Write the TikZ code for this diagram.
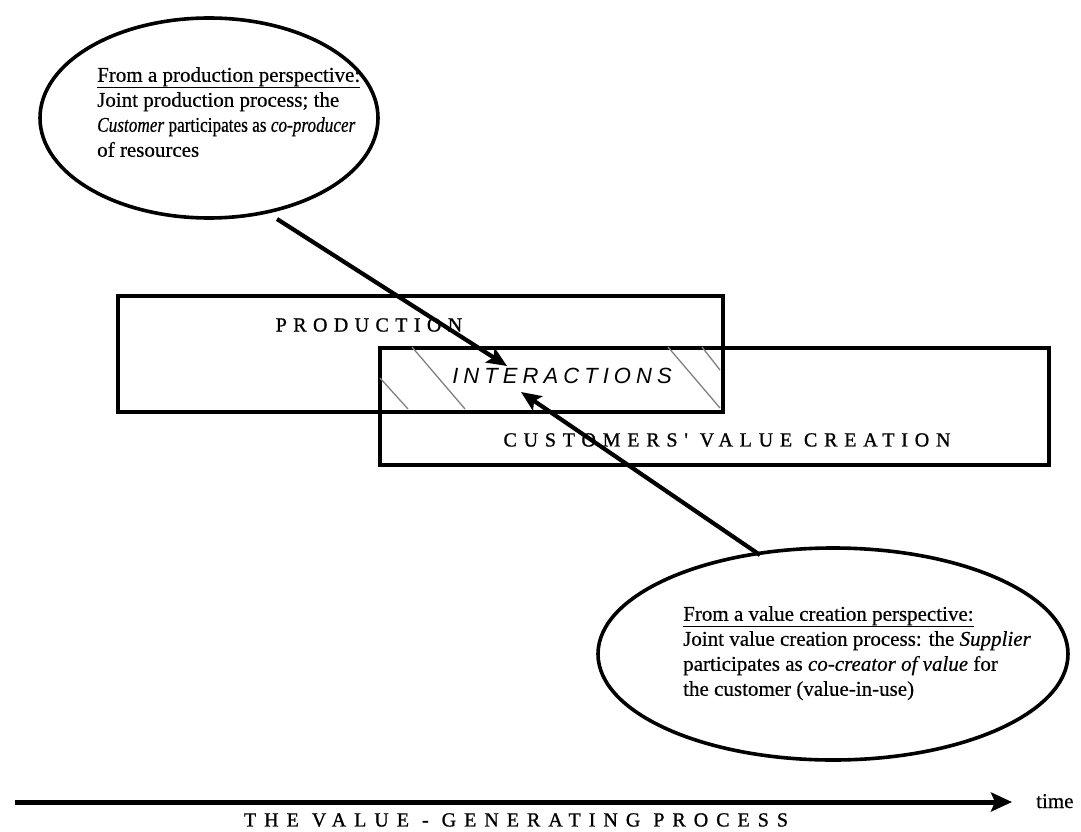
\documentclass[tikz,border=0pt]{standalone}
\usepackage{fontspec}
\setmainfont[FakeBold=0.5]{Liberation Serif}
\newfontfamily\capsfont[LetterSpace=32,FakeBold=1]{Liberation Serif}
\newfontfamily\widecapsfont[LetterSpace=40,FakeBold=1]{Liberation Serif}
\newfontfamily\interfont[LetterSpace=23]{Liberation Sans}
\usetikzlibrary{shapes.geometric,arrows.meta}
\begin{document}
\begin{tikzpicture}[x=1pt,y=-1pt,
  bubble/.style={draw,line width=3.6pt,ellipse,inner sep=0pt},
  box/.style={draw,line width=3.6pt,rectangle,inner sep=0pt,anchor=north west},
  bubbletext/.style={align=left,font=\fontsize{21}{25}\selectfont,inner sep=0pt,anchor=north west},
  capslabel/.style={font=\capsfont\fontsize{20}{20}\selectfont,inner sep=0pt},
  arr/.style={line width=4.2pt,-{Stealth[length=20pt,width=17pt,inset=4pt]}},
  axis/.style={line width=5pt,-{Stealth[length=21pt,width=19pt,inset=4pt]}},
  hatch/.style={draw=gray,line width=1.3pt}]
\useasboundingbox (0,0) rectangle (1081,832);
% boxes
\node[box,minimum width=605pt,minimum height=116pt] (prod) at (116,294) {};
\node[box,minimum width=669pt,minimum height=117pt] (cust) at (378,346) {};
% hatch in overlap
\draw[hatch] (380,378) -- (408,409);
\draw[hatch] (412,347) -- (465,409);
\draw[hatch] (668,347) -- (720,408);
\draw[hatch] (702,347) -- (720,370);
% labels
\node[capslabel] (ptext) at (369,325) {PRODUCTION};
\node[font=\interfont\itshape\fontsize{22}{22}\selectfont,inner sep=0pt] (itext) at (562,376) {INTERACTIONS};
\node[capslabel,font=\capsfont\addfontfeature{LetterSpace=34}\fontsize{20}{20}\selectfont] (ctext) at (727,440) {CUSTOMERS' VALUE CREATION};
% ellipses
\node[bubble,minimum width=338pt,minimum height=200pt] (e1) at (209,118) {};
\node[bubbletext] (t1) at (97,67) {\underline{From a production perspective:}\\
Joint production process; the\\
{\addfontfeature{FakeStretch=0.82}\textit{Customer} participates as \textit{co-producer}}\\
of resources};
\node[bubble,minimum width=470pt,minimum height=212pt] (e2) at (833,654) {};
\node[bubbletext] (t2) at (683,606) {\underline{From a value creation perspective:}\\
Joint value creation process: the \textit{Supplier}\\
participates as \textit{co-creator of value} for\\
the customer (value-in-use)};
% arrows
\coordinate (a1s) at (277,219);
\coordinate (a1e) at (507,366);
\coordinate (a2s) at (760,555);
\coordinate (a2e) at (521,392);
\draw[arr] (a1s) -- (a1e);
\draw[arr] (a2s) -- (a2e);
% time axis
\coordinate (ts) at (15,802);
\coordinate (te) at (1012,802);
\draw[axis] (ts) -- (te);
\node[font=\fontsize{21}{21}\selectfont,anchor=base west,inner sep=0pt] (time) at (1036,808) {time};
\node[font=\widecapsfont\fontsize{20}{20}\selectfont,inner sep=0pt] (vgp) at (516,820) {THE VALUE - GENERATING PROCESS};
\end{tikzpicture}
\end{document}
